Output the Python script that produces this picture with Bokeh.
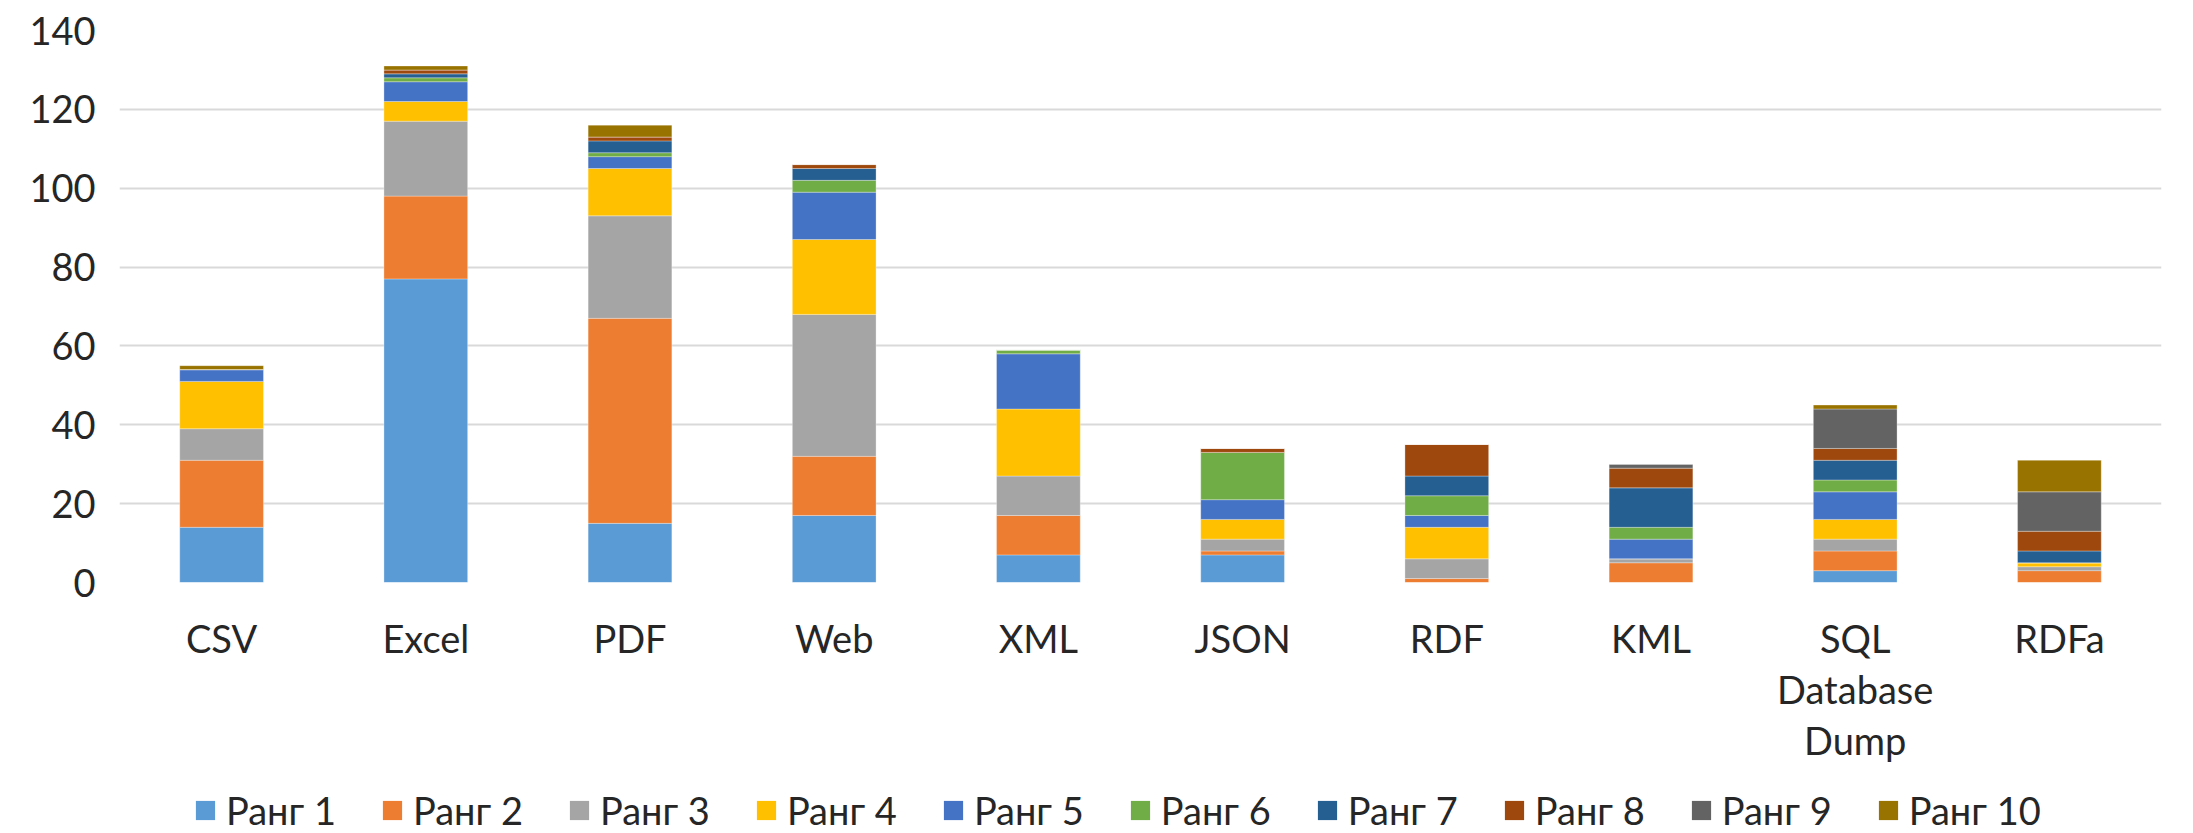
from bokeh.plotting import figure
from bokeh.models import Legend, LegendItem, Range1d, FixedTicker, LinearAxis
from bokeh.layouts import column
from bokeh.embed import file_html
from bokeh.resources import INLINE

categories = ["CSV", "Excel", "PDF", "Web", "XML", "JSON", "RDF", "KML", "SQL Database Dump", "RDFa"]
series_names = ["Ранг 1", "Ранг 2", "Ранг 3", "Ранг 4", "Ранг 5",
                "Ранг 6", "Ранг 7", "Ранг 8", "Ранг 9", "Ранг 10"]
rank1 = [14, 77, 15, 17, 7, 7, 0, 0, 3, 0]
rank2 = [17, 21, 52, 15, 10, 1, 1, 5, 5, 3]
rank3 = [8, 19, 26, 36, 10, 3, 5, 1, 3, 1]
rank4 = [12, 5, 12, 19, 17, 5, 8, 0, 5, 1]
rank5 = [3, 5, 3, 12, 14, 5, 3, 5, 7, 0]
rank6 = [0, 1, 1, 3, 1, 12, 5, 3, 3, 0]
rank7 = [0, 1, 3, 3, 0, 0, 5, 10, 5, 3]
rank8 = [0, 1, 1, 1, 0, 1, 8, 5, 3, 5]
rank9 = [0, 0, 0, 0, 0, 0, 0, 1, 10, 10]
rank10 = [1, 1, 3, 0, 0, 0, 0, 0, 1, 8]
y_ticks = [0, 20, 40, 60, 80, 100, 120, 140]
# tick label lines (the "SQL Database Dump" label wraps onto three lines)
label_line1 = ["CSV", "Excel", "PDF", "Web", "XML", "JSON", "RDF", "KML", "SQL", "RDFa"]
label_line2 = {"SQL Database Dump": "Database"}
label_line3 = {"SQL Database Dump": "Dump"}

colors = ["#5B9BD5", "#ED7D31", "#A5A5A5", "#FFC000", "#4472C4",
          "#70AD47", "#255E91", "#9E480E", "#636363", "#997300"]
FONT = "Lato"
FS = "38px"
TXT = "#262626"

n = len(categories)
x_pos = [i + 0.5 for i in range(n)]
keys = ["r%d" % i for i in range(1, 11)]
data = {"x": x_pos}
for k, vals in zip(keys, [rank1, rank2, rank3, rank4, rank5, rank6, rank7, rank8, rank9, rank10]):
    data[k] = vals

W = 2193
H1 = 783
H2 = 50

p = figure(x_range=Range1d(0, n), y_range=Range1d(0, 140), width=W, height=H1,
           output_backend="svg", toolbar_location=None,
           min_border_left=119, min_border_right=32, min_border_top=30, min_border_bottom=H1 - 582)
p.outline_line_color = None

renderers = p.vbar_stack(keys, x="x", width=0.41, source=data, color=colors,
                         line_color="white", line_width=0.5, line_alpha=0.6)

p.yaxis.ticker = FixedTicker(ticks=y_ticks)
p.ygrid.grid_line_color = "#d9d9d9"
p.ygrid.grid_line_width = 2
p.xgrid.grid_line_color = None


def style_axis(ax):
    ax.axis_line_color = None
    ax.major_tick_line_color = None
    ax.minor_tick_line_color = None
    ax.major_tick_out = 0
    ax.major_tick_in = 0
    ax.major_label_text_font = FONT
    ax.major_label_text_font_size = FS
    ax.major_label_text_color = TXT


style_axis(p.xaxis[0])
style_axis(p.yaxis[0])
p.yaxis.major_label_standoff = 24
p.xaxis.ticker = FixedTicker(ticks=x_pos)
p.xaxis.major_label_overrides = {xv: lab for xv, lab in zip(x_pos, label_line1)}
p.xaxis.major_label_standoff = 32

for extra in (label_line2, label_line3):
    ticks = [xv for xv, c in zip(x_pos, categories) if c in extra]
    labels = {xv: extra[c] for xv, c in zip(x_pos, categories) if c in extra}
    ax = LinearAxis(ticker=FixedTicker(ticks=ticks), major_label_overrides=labels)
    style_axis(ax)
    ax.major_label_standoff = 2
    p.add_layout(ax, "below")

# legend panel
q = figure(x_range=Range1d(0, 1), y_range=Range1d(0, 1), width=W, height=H2,
           output_backend="svg", toolbar_location=None,
           min_border_left=0, min_border_right=0, min_border_top=0, min_border_bottom=0,
           x_axis_location=None, y_axis_location=None)
q.outline_line_color = None
q.grid.visible = False
items = []
for name, c in zip(series_names, colors):
    # legend swatch holder only: zero-height, outside the visible range
    r = q.vbar(x=[-5], top=[0], bottom=[0], width=0.5, fill_color=c, line_color=None)
    items.append(LegendItem(label=name, renderers=[r]))
legend = Legend(items=items, orientation="horizontal", location=(74, 0),
                label_text_font=FONT, label_text_font_size=FS, label_text_color=TXT,
                glyph_width=24, glyph_height=24, label_standoff=9, spacing=44,
                background_fill_alpha=0, border_line_color=None, padding=0, margin=0)
q.add_layout(legend)

layout = column(p, q, spacing=0)
open("out.html", "w").write(file_html(layout, INLINE))
